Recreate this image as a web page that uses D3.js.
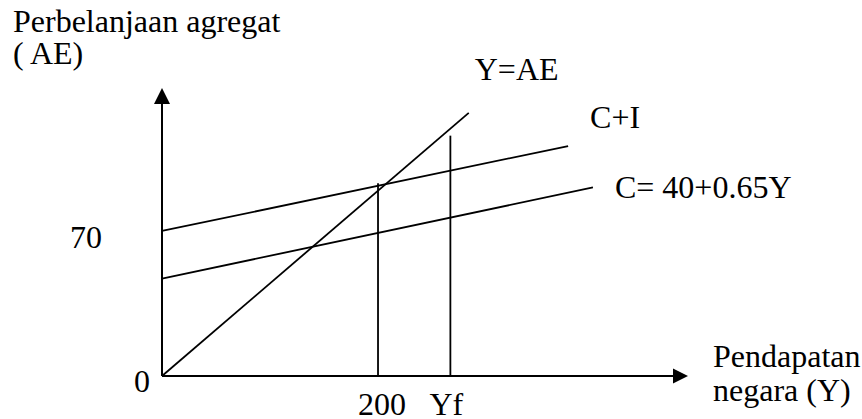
<!DOCTYPE html>
<html>
<head>
<meta charset="utf-8">
<script src="https://cdn.jsdelivr.net/npm/d3@7"></script>
<style>
    body { margin: 0; background: #fff; }
    text { font-family: "Liberation Serif", "Times New Roman", serif; fill: #000; }
</style>
</head>
<body>
<div id="chart"></div>
<script>
// Schematic values (income on x, AE on y)
const incomeMax = 487;
const aeMax = 139;
const tickValues = [200, 267];
const tickLabels = ["200", "Yf"];
const interceptTick = 70;

const aeLine = [{ y: 0, ae: 0 }, { y: 284, ae: 127 }];          // Y=AE
const ciLine = [{ y: 0, ae: 70 }, { y: 376, ae: 111 }];         // C+I
const cLine = [{ y: 0, ae: 47 }, { y: 399, ae: 91 }];           // C
const dropTops = [93, 116];                                      // verticals at 200 and Yf

const lineLabels = ["Y=AE", "C+I", "C= 40+0.65Y"];

function drawChart() {
    const W = 862, H = 419;
    const svg = d3.select("#chart")
        .append("svg")
        .attr("width", W)
        .attr("height", H);

    const x = d3.scaleLinear().domain([0, incomeMax]).range([162, 688]);
    const y = d3.scaleLinear().domain([0, aeMax]).range([376, 88]);

    const line = d3.line()
        .x(d => x(d.y))
        .y(d => y(d.ae));

    // Axes with arrowheads
    svg.append("line")
        .attr("x1", x(0)).attr("x2", x(incomeMax) - 12)
        .attr("y1", y(0)).attr("y2", y(0))
        .attr("stroke", "#000").attr("stroke-width", 2);
    svg.append("line")
        .attr("x1", x(0)).attr("x2", x(0))
        .attr("y1", y(0)).attr("y2", y(aeMax) + 12)
        .attr("stroke", "#000").attr("stroke-width", 2);

    svg.append("path")
        .attr("d", `M${x(incomeMax)},${y(0)} L${x(incomeMax) - 15},${y(0) - 7.5} L${x(incomeMax) - 15},${y(0) + 7.5} Z`)
        .attr("fill", "#000");
    svg.append("path")
        .attr("d", `M${x(0)},${y(aeMax)} L${x(0) - 8},${y(aeMax) + 16} L${x(0) + 8},${y(aeMax) + 16} Z`)
        .attr("fill", "#000");

    // Lines
    [aeLine, ciLine, cLine].forEach(data => {
        svg.append("path")
            .datum(data)
            .attr("fill", "none")
            .attr("stroke", "#000")
            .attr("stroke-width", 1.8)
            .attr("d", line);
    });

    // Vertical drops
    tickValues.forEach((v, i) => {
        svg.append("line")
            .attr("x1", x(v)).attr("x2", x(v))
            .attr("y1", y(0)).attr("y2", y(dropTops[i]))
            .attr("stroke", "#000")
            .attr("stroke-width", 1.8);
    });

    const fs = "32px";

    // Tick labels
    tickLabels.forEach((t, i) => {
        svg.append("text")
            .attr("x", x(tickValues[i]) + (i === 0 ? 4 : -4))
            .attr("y", y(0) + 39)
            .attr("text-anchor", "middle")
            .style("font-size", fs)
            .text(t);
    });

    svg.append("text")
        .attr("x", x(0) - 12)
        .attr("y", y(0) + 16)
        .attr("text-anchor", "end")
        .style("font-size", fs)
        .text("0");

    svg.append("text")
        .attr("x", x(0) - 60)
        .attr("y", y(interceptTick) + 17)
        .attr("text-anchor", "end")
        .style("font-size", fs)
        .text(interceptTick);

    // Line labels
    const ends = [aeLine[1], ciLine[1], cLine[1]];
    const offsets = [[6, -33], [22, -18], [22, 11]];
    lineLabels.forEach((t, i) => {
        svg.append("text")
            .attr("x", x(ends[i].y) + offsets[i][0])
            .attr("y", y(ends[i].ae) + offsets[i][1])
            .style("font-size", fs)
            .text(t);
    });

    // Axis titles
    svg.append("text").attr("x", 13).attr("y", 32).style("font-size", fs).text("Perbelanjaan agregat");
    svg.append("text").attr("x", 13).attr("y", 64).style("font-size", fs).text("( AE)");
    svg.append("text").attr("x", 713).attr("y", 367).style("font-size", fs).text("Pendapatan");
    svg.append("text").attr("x", 713).attr("y", 401).style("font-size", fs).text("negara (Y)");
}

if (document.readyState === 'loading') {
    document.addEventListener('DOMContentLoaded', drawChart);
} else {
    drawChart();
}
</script>
</body>
</html>
